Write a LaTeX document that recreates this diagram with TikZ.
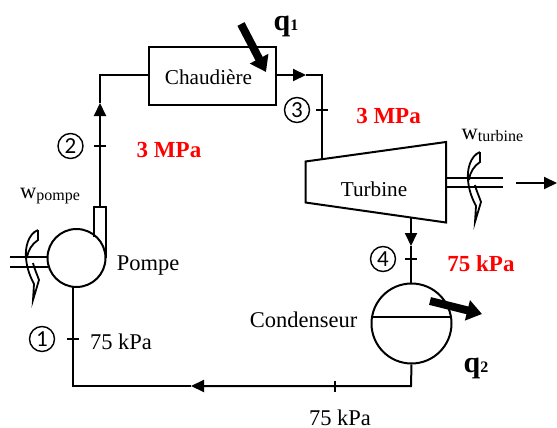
\documentclass[tikz,border=0pt]{standalone}
\usepackage{fontspec}
\setmainfont{Liberation Serif}
\newfontfamily\numfont{Carlito}
\usetikzlibrary{arrows.meta, positioning}
\newcommand{\blade}[2]{\draw[blade line, shift={(#1,#2)}] (13,8) .. controls (3,12) and (0,26) .. (1,36) .. controls (2,48) and (6,56) .. (9,62) -- (8,78) -- (14,58) .. controls (12,52) and (9,46) .. (8,41) (13,8) -- (13,18) .. controls (7,22) and (3,28) .. (2,36);}

\begin{document}
\begin{tikzpicture}[x=1pt,y=-1pt]
    \tikzstyle{thick line}=[draw=black, line width=2pt]
    \tikzstyle{blade line}=[draw=black, line width=1.8pt]
    \tikzstyle{pipe}=[thick line]
    \tikzstyle{pipe arrow}=[thick line, -{Triangle[length=13pt,width=12pt]}]
    \tikzstyle{heat arrow}=[draw=black, line width=8pt, -{Triangle[length=15pt,width=20pt]}]
    \tikzstyle{tick}=[draw=black, line width=1.5pt]
    \tikzstyle{lbl}=[font=\fontsize{22.5}{24}\selectfont, inner sep=0pt]
    \tikzstyle{box lbl}=[font=\fontsize{21.2}{24}\selectfont, inner sep=0pt]
    \tikzstyle{press}=[font=\fontsize{23}{24}\selectfont\bfseries, text=red, inner sep=0pt]
    \tikzstyle{state}=[circle, draw=black, line width=1.4pt, minimum size=25pt, inner sep=0pt, font=\numfont\fontsize{23}{24}\selectfont]
    \tikzstyle{equip}=[circle, thick line, inner sep=0pt]

    \useasboundingbox (0,0) rectangle (557,428);

    \node[thick line, minimum width=127pt, minimum height=57pt, inner sep=0pt] (chaudiere) at (212,76) {};
    \node[box lbl] (chaudiere label) at (208.5,77) {Chaudière};
    \node[equip, minimum size=58pt] (pompe) at (76.5,258) {};
    \node[equip, minimum size=80pt] (condenseur) at (411.5,323.5) {};

    % turbine
    \coordinate (T-1) at (305.5,161.5);
    \coordinate (T-2) at (446,142);
    \coordinate (T-3) at (446,222.5);
    \coordinate (T-4) at (305.5,202.5);
    \draw[thick line] (T-1) -- (T-2) -- (T-3) -- (T-4) -- cycle;
    \node[box lbl] (turbine) at (374,189) {Turbine};

    % refoulement de la pompe
    \coordinate (P-1) at (94,237);
    \coordinate (P-2) at (94,207);
    \coordinate (P-3) at (106,207);
    \coordinate (P-4) at (106,258);
    \draw[thick line] (P-1) -- (P-2) -- (P-3) -- (P-4);

    % tuyaux
    \coordinate (A) at (100,207);
    \coordinate (B) at (100,103);
    \coordinate (C) at (100,75);
    \coordinate (D) at (148,75);
    \coordinate (E) at (276,75);
    \coordinate (F) at (306,75);
    \coordinate (G) at (322,75);
    \coordinate (H) at (322,159);
    \coordinate (I) at (411,218);
    \coordinate (J) at (411,246);
    \coordinate (K) at (411,283);
    \coordinate (L) at (411,386);
    \coordinate (M) at (191,386);
    \coordinate (N) at (73,386);
    \coordinate (Q) at (73,287);

    \draw[pipe arrow] (A) -- (B);
    \draw[pipe] (B) -- (C) -- (D);
    \draw[pipe arrow] (E) -- (F);
    \draw[pipe] (F) -- (G) -- (H);
    \draw[pipe arrow] (I) -- (J);
    \draw[pipe] (J) -- (K);
    \draw[pipe arrow] (condenseur.south) -- (L) -- (M);
    \draw[pipe] (M) -- (N) -- (Q);

    % condenseur
    \coordinate (S-1) at (371,317);
    \coordinate (S-2) at (452,317);
    \draw[pipe] (S-1) -- (S-2);

    % arbres
    \foreach \y in {257,267}{
        \coordinate (a-\y) at (10,\y);
        \coordinate (b-\y) at (47.5,\y);
        \draw[pipe] (a-\y) -- (b-\y);
    }
    \foreach \y in {178,187}{
        \coordinate (c-\y) at (446,\y);
        \coordinate (d-\y) at (503,\y);
        \draw[pipe] (c-\y) -- (d-\y);
    }
    \coordinate (W-1) at (516,183);
    \coordinate (W-2) at (557,183);
    \draw[pipe arrow] (W-1) -- (W-2);

    \blade{25}{222}
    \blade{467}{144}

    % chaleur
    \coordinate (q-1) at (241,24);
    \coordinate (q-2) at (266,72);
    \coordinate (q-3) at (430,301);
    \coordinate (q-4) at (482,314);
    \draw[heat arrow] (q-1) -- (q-2);
    \draw[heat arrow] (q-3) -- (q-4);

    % etats
    \foreach \n/\x/\y/\sx in {1/73/339/42, 2/100/146/70.5, 3/322/110/297, 4/411/259/383}{
        \node[state] (S\n) at (\sx,\y) {\n};
        \coordinate (t-\n) at (\x-6,\y);
        \coordinate (u-\n) at (\x+6,\y);
        \draw[tick] (t-\n) -- (u-\n);
    }
    \coordinate (t-5) at (335,381);
    \coordinate (u-5) at (335,392);
    \draw[tick] (t-5) -- (u-5);

    \node[lbl] (w1) at (50,196) {w\fontsize{16}{18}\selectfont\raisebox{-2pt}{pompe}};
    \node[lbl] (w2) at (492.5,135) {w\fontsize{16}{18}\selectfont\raisebox{-2pt}{turbine}};
    \node[lbl] (pompe label) at (148,266) {Pompe};
    \node[lbl] (condenseur label) at (303.5,320) {Condenseur};
    \node[lbl] (p1) at (121,342) {75 kPa};
    \node[lbl] (p2) at (340,417.5) {75 kPa};
    \node[press] (p3) at (169,150) {3 MPa};
    \node[press] (p4) at (388.5,116) {3 MPa};
    \node[press] (p5) at (481,264) {75 kPa};
    \node[lbl, font=\fontsize{30}{32}\selectfont\bfseries] (q1) at (286,26) {q\fontsize{16}{18}\selectfont\raisebox{0pt}{1}};
    \node[lbl, font=\fontsize{30}{32}\selectfont\bfseries] (q2) at (476,368) {q\fontsize{16}{18}\selectfont\raisebox{0pt}{2}};
\end{tikzpicture}
\end{document}
